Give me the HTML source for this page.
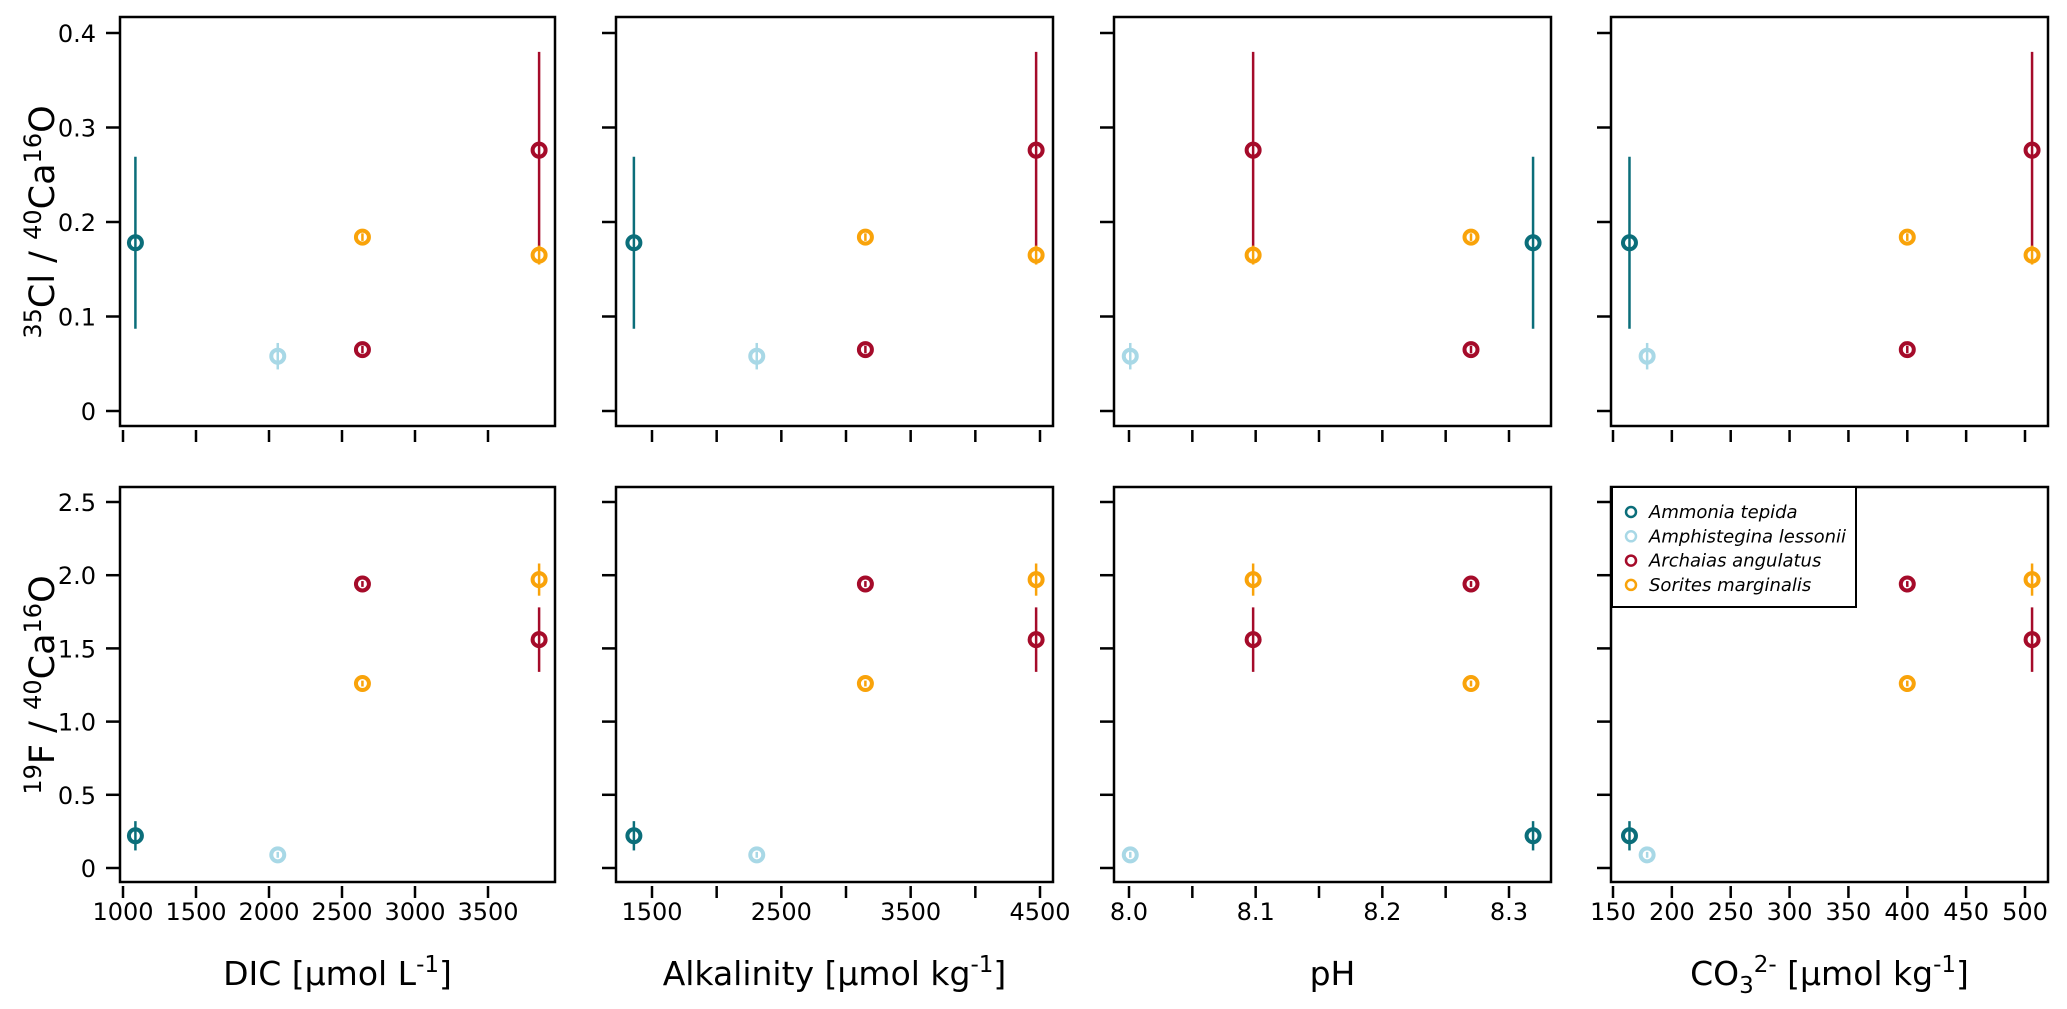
<!DOCTYPE html>
<html><head><meta charset="utf-8"><style>
html,body{margin:0;padding:0;background:#fff;}
svg{display:block;font-family:"DejaVu Sans","Liberation Sans",sans-serif;}
</style></head><body>
<svg id="chart" width="2067" height="1009" viewBox="0 0 2067 1009" xmlns="http://www.w3.org/2000/svg"></svg>
<script>
const species = ["Ammonia tepida","Amphistegina lessonii","Archaias angulatus","Sorites marginalis"];
const colors = ["#0b6e7a","#a8d8e6","#a50b2a","#f9a30a"];
const sampleSpecies = [0,1,2,3,2,3];
const dicVals = [1085,2060,2640,2640,3850,3850];
const alkVals = [1360,2310,3150,3150,4470,4470];
const phVals = [8.319,8.001,8.27,8.27,8.098,8.098];
const co3Vals = [164,179,400,400,506,506];
const clVals = [0.178,0.058,0.065,0.184,0.276,0.165];
const clErr = [0.091,0.014,0.004,0.004,0.104,0.010];
const fVals = [0.22,0.09,1.94,1.26,1.56,1.97];
const fErr = [0.10,0.02,0.02,0.02,0.22,0.11];
const dicTicks = [1000,1500,2000,2500,3000,3500];
const dicLabels = ["1000","1500","2000","2500","3000","3500"];
const alkTicks = [1500,2000,2500,3000,3500,4000,4500];
const alkLabels = ["1500","","2500","","3500","","4500"];
const phTicks = [8.0,8.05,8.1,8.15,8.2,8.25,8.3];
const phLabels = ["8.0","","8.1","","8.2","","8.3"];
const co3Ticks = [150,200,250,300,350,400,450,500];
const co3Labels = ["150","200","250","300","350","400","450","500"];
const clTicks = [0,0.1,0.2,0.3,0.4];
const clLabels = ["0","0.1","0.2","0.3","0.4"];
const fTicks = [0,0.5,1,1.5,2,2.5];
const fLabels = ["0","0.5","1.0","1.5","2.0","2.5"];

const NS="http://www.w3.org/2000/svg";
const svg=document.getElementById('chart');
function el(tag,attrs,parent){const e=document.createElementNS(NS,tag);for(const k in attrs)e.setAttribute(k,attrs[k]);(parent||svg).appendChild(e);return e;}

const cols=[
 {name:"dic",left:120,right:555,x0:1000,px0:123,x1:3500,px1:488,vals:dicVals,ticks:dicTicks,labels:dicLabels},
 {name:"alk",left:616,right:1053,x0:1500,px0:652,x1:4500,px1:1040,vals:alkVals,ticks:alkTicks,labels:alkLabels},
 {name:"ph",left:1114,right:1551,x0:8.0,px0:1129,x1:8.3,px1:1509,vals:phVals,ticks:phTicks,labels:phLabels},
 {name:"co3",left:1611,right:2048,x0:150,px0:1613,x1:500,px1:2025,vals:co3Vals,ticks:co3Ticks,labels:co3Labels}
];
const rows=[
 {name:"cl",top:17,bottom:426,y0:0,py0:411,y1:0.4,py1:33,vals:clVals,err:clErr,ticks:clTicks,labels:clLabels},
 {name:"f",top:487,bottom:882,y0:0,py0:868,y1:2.5,py1:502,vals:fVals,err:fErr,ticks:fTicks,labels:fLabels}
];

rows.forEach((r,ri)=>{
 const ys=v=>r.py0+(v-r.y0)*(r.py1-r.py0)/(r.y1-r.y0);
 cols.forEach((c,ci)=>{
  const xs=v=>c.px0+(v-c.x0)*(c.px1-c.px0)/(c.x1-c.x0);
  const g=el('g',{});
  
  
  const fr=el('rect',{x:c.left,y:r.top,width:c.right-c.left,height:r.bottom-r.top,fill:'none',stroke:'#000','stroke-width':2.5},g);
  
  
  r.ticks.forEach((t,i)=>{
   const y=ys(t);
   const tk=el('line',{x1:c.left-14,x2:c.left,y1:y,y2:y,stroke:'#000','stroke-width':2.5},g);
   
   
   if(ci===0){
    const tx=el('text',{x:c.left-24,y:y+9,'text-anchor':'end','font-size':24,fill:'#000'},g);
    tx.textContent=r.labels[i];
    
    
   }
  });
  const axY=r.bottom+4;
  c.ticks.forEach((t,i)=>{
   const x=xs(t);
   const tk=el('line',{x1:x,x2:x,y1:axY,y2:axY+12,stroke:'#000','stroke-width':2.5},g);
   
   
   if(ri===1 && c.labels[i]){
    const tx=el('text',{x:x,y:920,'text-anchor':'middle','font-size':24,fill:'#000'},g);
    tx.textContent=c.labels[i];
    
    
   }
  });
  c.vals.forEach((xv,k)=>{
   const x=xs(xv), y=ys(r.vals[k]);
   const col=colors[sampleSpecies[k]];
   const eb=el('line',{x1:x,x2:x,y1:ys(r.vals[k]-r.err[k]),y2:ys(r.vals[k]+r.err[k]),stroke:col,'stroke-width':2.5},g);
   
   
   const pt=el('circle',{cx:x,cy:y,r:6.5,fill:'none',stroke:col,'stroke-width':4},g);
   
   
  });
 });
});

function xtitle(c,parts){
 const t=el('text',{x:(c.left+c.right)/2,y:985,'text-anchor':'middle','font-size':33,fill:'#000'});
 
 
 parts.forEach(p=>{const s=el('tspan',{},t);if(p.dy)s.setAttribute('dy',p.dy);if(p.fs)s.setAttribute('font-size',p.fs);s.textContent=p.t;});
}
xtitle(cols[0],[{t:"DIC [μmol L"},{t:"-1",dy:-13,fs:23},{t:"]",dy:13}]);
xtitle(cols[1],[{t:"Alkalinity [μmol kg"},{t:"-1",dy:-13,fs:23},{t:"]",dy:13}]);
xtitle(cols[2],[{t:"pH"}]);
xtitle(cols[3],[{t:"CO"},{t:"3",dy:8,fs:23},{t:"2-",dy:-21,fs:23},{t:" [μmol kg",dy:13},{t:"-1",dy:-13,fs:23},{t:"]",dy:13}]);

function ytitle(cy,parts,name){
 const t=el('text',{x:0,y:0,'text-anchor':'middle','font-size':35,fill:'#000',transform:'translate(54,'+cy+') rotate(-90)'});
 
 
 parts.forEach(p=>{const s=el('tspan',{},t);if(p.dy)s.setAttribute('dy',p.dy);if(p.fs)s.setAttribute('font-size',p.fs);s.textContent=p.t;});
}
ytitle(222,[{t:"35",dy:-13,fs:24},{t:"Cl / ",dy:13},{t:"40",dy:-13,fs:24},{t:"Ca",dy:13},{t:"16",dy:-13,fs:24},{t:"O",dy:13}],'y-axis-title-cl');
ytitle(685,[{t:"19",dy:-13,fs:24},{t:"F / ",dy:13},{t:"40",dy:-13,fs:24},{t:"Ca",dy:13},{t:"16",dy:-13,fs:24},{t:"O",dy:13}],'y-axis-title-f');

const lg=el('g',{});


el('rect',{x:1612,y:487,width:244,height:120,fill:'#fff',stroke:'#000','stroke-width':2},lg);
species.forEach((s,i)=>{
 const y=512+i*24.3;
 const c=el('circle',{cx:1631,cy:y,r:5,fill:'none',stroke:colors[i],'stroke-width':2.5},lg);
 
 
 const t=el('text',{x:1649,y:y+6,'font-size':18,'font-style':'italic',fill:'#000'},lg);
 t.textContent=s;
 
 
});
</script>
</body></html>
